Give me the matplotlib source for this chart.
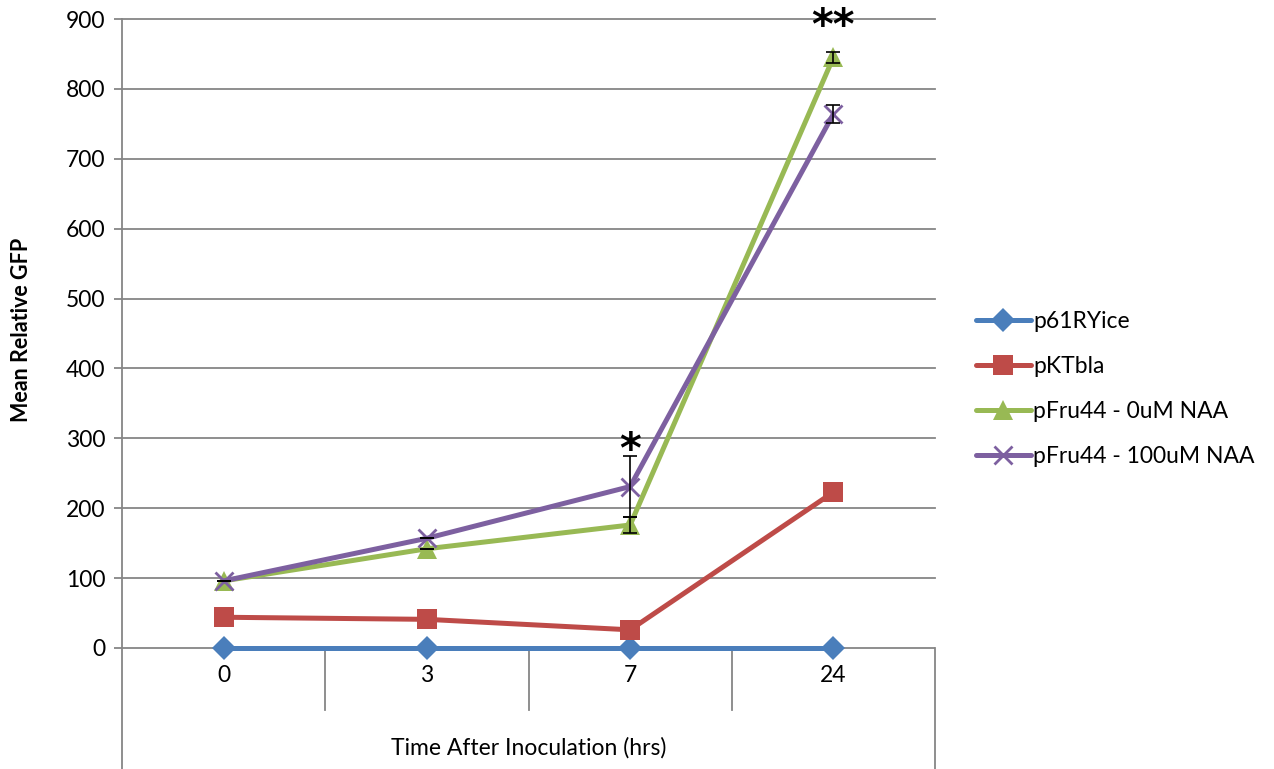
import numpy as np
import matplotlib
matplotlib.use("Agg")
import matplotlib.pyplot as plt

# data
times = ["0", "3", "7", "24"]
p61ryice = [0, 0, 0, 0]
pktbla = [44, 41, 26, 223]
pfru44_0 = [96, 142, 176, 845]
pfru44_100 = [96, 157, 231, 764]
err_0 = [0, 0, 12, 8]
err_100 = [0, 0, 44, 13]

SERIES = [
    ("p61RYice", p61ryice, None, "#4A7EBB", "D", 12),
    ("pKTbla", pktbla, None, "#BE4B48", "s", 14),
    ("pFru44 - 0uM NAA", pfru44_0, err_0, "#98B954", "^", 15),
    ("pFru44 - 100uM NAA", pfru44_100, err_100, "#7D60A0", "x", 13),
]

plt.rcParams["font.family"] = ["Lato", "DejaVu Sans"]
GRID = "#868686"
FS = 16.5

fig = plt.figure(figsize=(12.74, 7.69), dpi=100)
ax = fig.add_axes([122 / 1274, 0.0, (935 - 122) / 1274, 1 - 19 / 769])
ymin = -(769 - 648) / ((648 - 19) / 900)
ax.set_xlim(-0.5, 3.5)
ax.set_ylim(ymin, 900)

x = np.arange(len(times))
for yv in range(100, 901, 100):
    ax.plot([-0.5, 3.5], [yv, yv], color=GRID, lw=1.3, zorder=1, clip_on=False)
ax.plot([-0.5, 3.5], [0, 0], color=GRID, lw=1.3, zorder=1)
# category separators below the axis and right edge
for xs in [0.5, 1.5, 2.5]:
    ax.plot([xs, xs], [0, -89], color=GRID, lw=1.3, zorder=1)
ax.plot([3.5, 3.5], [0, ymin], color=GRID, lw=1.3, zorder=1, clip_on=False)

for name, vals, err, col, mk, ms in SERIES:
    ax.plot(x, vals, color=col, lw=3.6, marker=mk, ms=ms, mew=2 if mk == "x" else 0,
            mec=col, label=name, zorder=3, solid_capstyle="round")
    if err is not None:
        ax.errorbar(x, vals, yerr=err, fmt="none", ecolor="black", elinewidth=1.2,
                    capsize=5, capthick=1.2, zorder=4)

ax.text(2, 282, "*", ha="center", va="center", fontsize=30, fontweight="bold",
        family="DejaVu Sans")
ax.text(3, 888, "**", ha="center", va="center", fontsize=30, fontweight="bold",
        family="DejaVu Sans")

for spine in ["top", "right", "bottom"]:
    ax.spines[spine].set_visible(False)
ax.spines["left"].set_color(GRID)
ax.spines["left"].set_linewidth(1.3)

ax.set_yticks(range(0, 901, 100))
ax.tick_params(axis="y", length=6, color=GRID, width=1.3, labelsize=FS, pad=6)
ax.set_xticks([])
for xi, t in zip(x, times):
    ax.text(xi, -40, t, ha="center", va="center", fontsize=FS)
ax.text(1.5, -143, "Time After Inoculation (hrs)", ha="center", va="center", fontsize=FS)
fig.text(22 / 1274, 1 - 330 / 769, "Mean Relative GFP", rotation=90, ha="center",
         va="center", fontsize=15.5, fontweight="bold")

leg = fig.legend(loc="upper left", bbox_to_anchor=(955 / 1274, 1 - 290 / 769),
                 frameon=False, fontsize=FS, handlelength=2.4, labelspacing=1.05,
                 handletextpad=0.1)

fig.savefig("out.png", dpi=100)
